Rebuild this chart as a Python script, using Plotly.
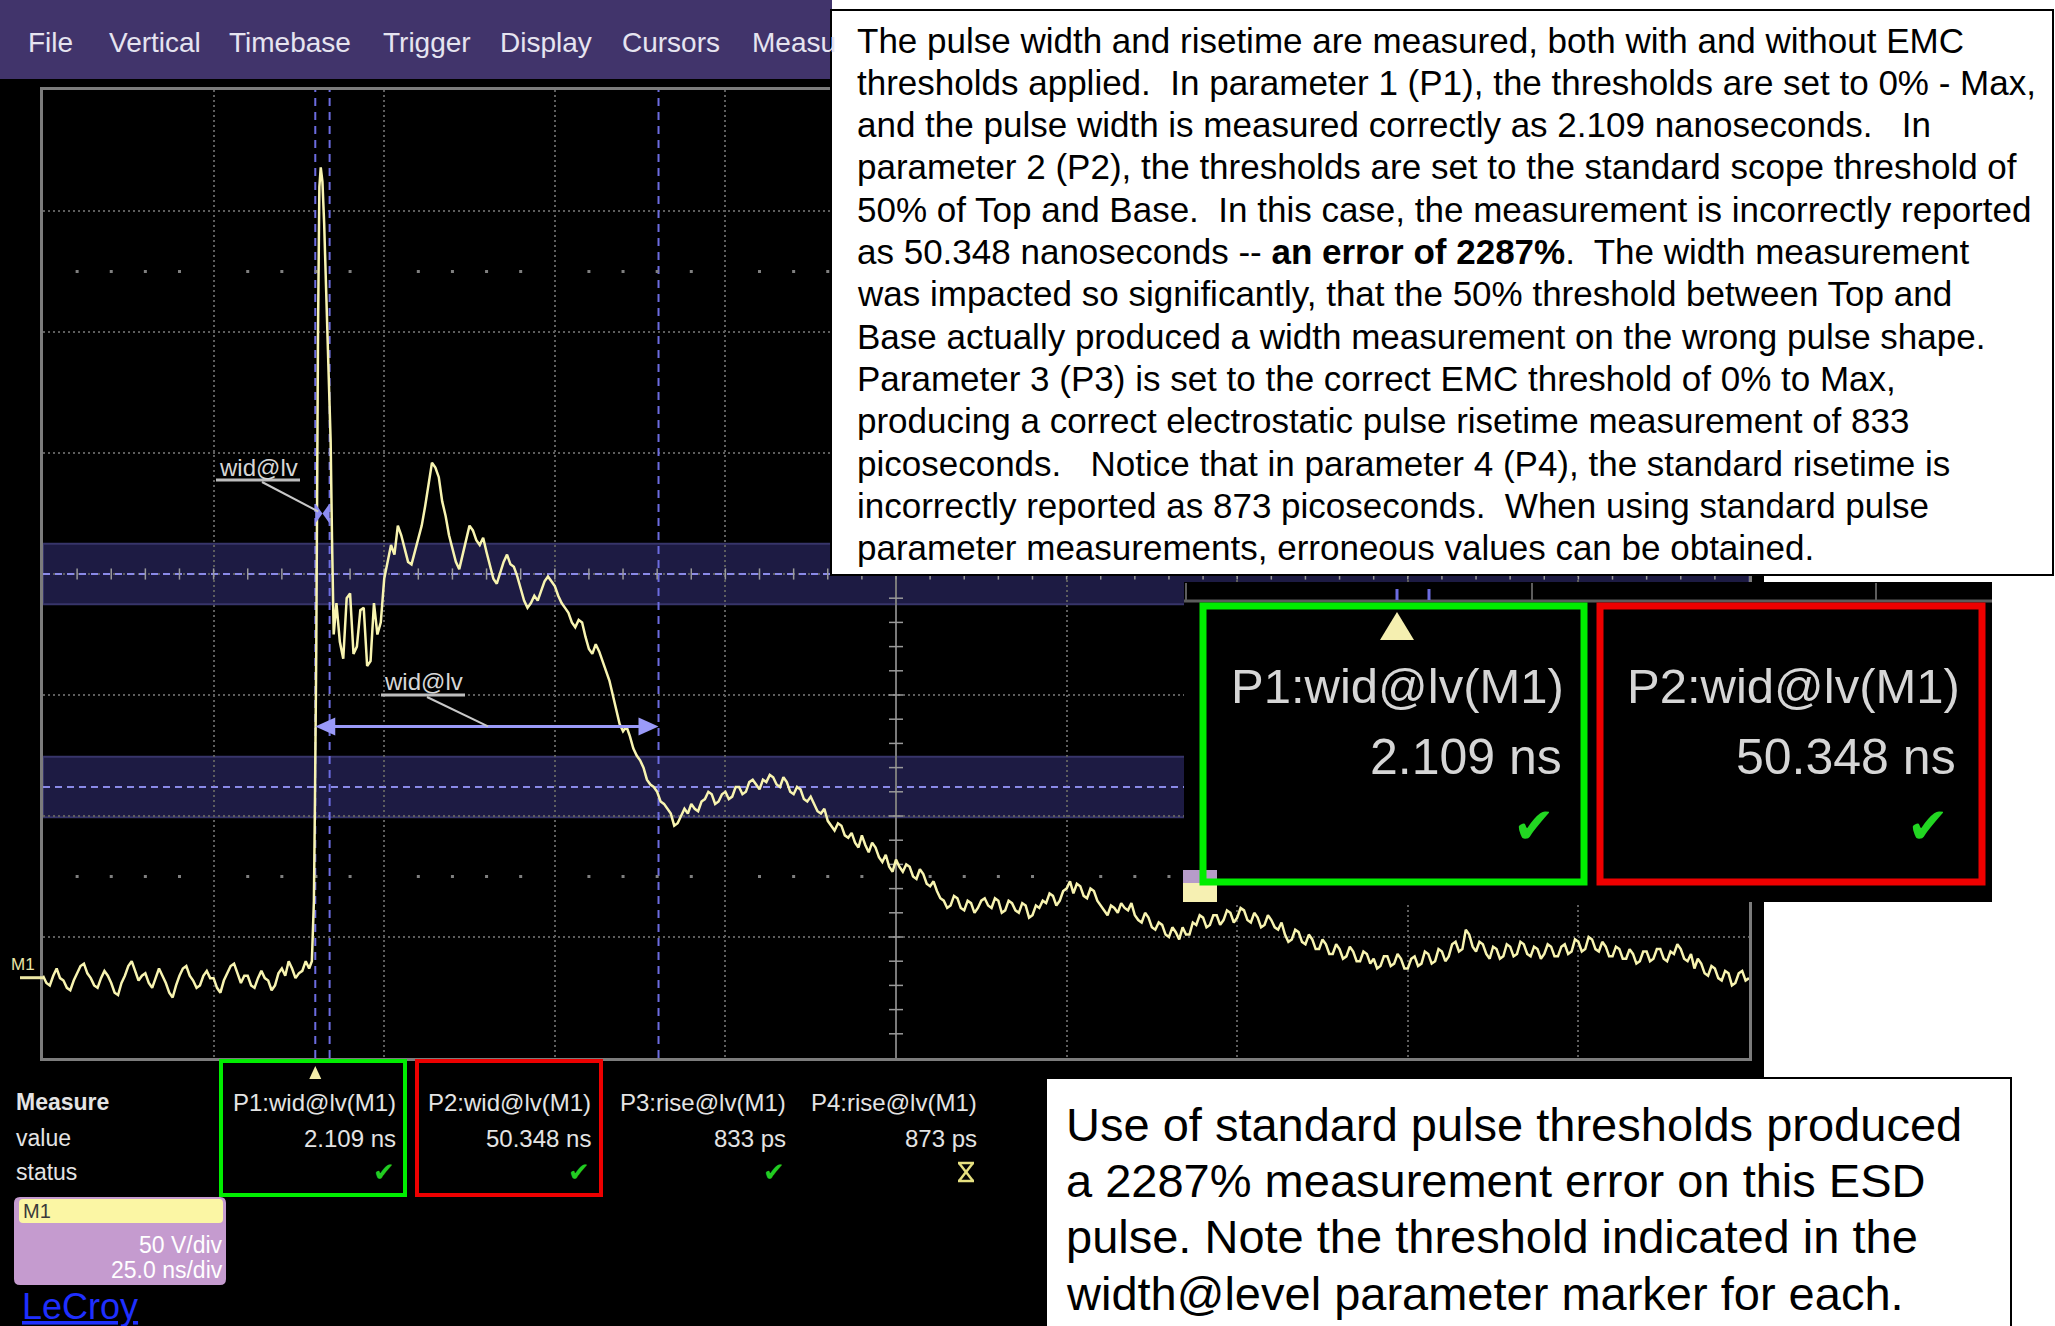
import plotly.graph_objects as go

W, H = 2055, 1326

# ---------------- data ----------------
# Math trace M1: 25 ns/div horizontally, 50 V/div vertically, 0.5 ns samples
V_BASE = [-166, -169, -170, -166, -163, -167, -168, -171, -172, -168,
          -165, -162, -161, -165, -167, -170, -171, -167, -164, -166,
          -169, -173, -174, -169, -166, -162, -160, -164, -168, -166,
          -165, -169, -171, -167, -163, -166, -169, -173, -175, -170,
          -166, -163, -162, -166, -168, -171, -170, -166, -164, -167,
          -167, -171, -173, -168, -165, -162, -161, -165, -169, -166,
          -166, -170, -171, -167, -164, -167, -168, -172, -170, -165,
          -163, -166, -160, -163, -167, -165, -164, -160, -163]
T_BASE = [0.5 * k for k in range(len(V_BASE))]          # 0 .. 39 ns
T_SPIKE = [39.4, 39.7, 39.86, 40.05, 40.3, 40.5, 40.7, 40.95, 41.2, 41.45,
           41.7, 41.95, 42.15, 42.35, 42.6]
V_SPIKE = [-160, -135, -92, -30, 100, 160, 168, 162, 145, 120,
           99, 75, 55, 15, -25]
V_TAIL = [
    -12, -28, -35, -10, -8, -33, -30, -15, -14, -38, -36, -12, -25, -20,
    -2, 5, 12, 8, 20, 16, 11, 5, 4, 9, 15, 20, 28, 38, 46, 44, 40, 30, 24, 16,
    11, 5, 2, 8, 13, 20, 18, 14, 12, 15, 9, 3, -2, -4, 1, 5, 8, 4, 3, -1,
    -6, -11, -14, -12, -9, -11, -7, -3, -1, -3, -5, -9, -12, -14, -16, -20, -22, -19, -20, -26,
    -31, -33, -29, -32, -36, -40, -44, -50, -56, -62, -65, -63, -67, -72, -75, -77, -80, -85, -87, -88,
    -90, -94, -95, -97, -99, -104, -103, -100, -97, -99, -95, -97, -98, -94, -93, -90, -91, -95, -94, -91,
    -90, -93, -92, -88, -88, -91, -90, -86, -85, -87, -89, -85, -86, -83, -84, -87, -88, -84, -86, -90,
    -91, -88, -89, -93, -94, -92, -95, -98, -99, -97, -102, -104, -106, -103, -104, -108, -109, -107, -111, -113,
    -108, -112, -115, -111, -113, -117, -119, -116, -121, -123, -118, -121, -123, -120, -121, -125, -126, -122, -124, -128,
    -129, -127, -131, -134, -135, -138, -137, -133, -134, -138, -139, -135, -136, -140, -138, -135, -134, -137, -138, -134,
    -135, -140, -139, -135, -136, -139, -140, -136, -137, -142, -141, -137, -138, -135, -136, -132, -133, -137, -135, -131,
    -130, -127, -132, -128, -129, -133, -134, -130, -131, -135, -137, -139, -141, -137, -138, -140, -136, -138, -139, -136,
    -141, -143, -144, -140, -142, -146, -147, -144, -145, -149, -150, -146, -148, -151, -146, -149, -149, -144, -145, -141,
    -142, -146, -145, -141, -141, -145, -143, -139, -140, -144, -142, -138, -139, -143, -144, -140, -142, -146, -145, -141,
    -143, -146, -147, -144, -149, -152, -151, -147, -148, -152, -153, -149, -151, -155, -155, -151, -153, -157, -157, -153,
    -155, -159, -158, -154, -156, -160, -160, -156, -157, -161, -159, -163, -162, -158, -158, -162, -161, -157, -159, -163,
    -163, -159, -158, -162, -161, -156, -157, -161, -160, -155, -156, -160, -158, -153, -152, -156, -155, -147, -149, -154,
    -156, -152, -153, -157, -159, -154, -155, -159, -158, -153, -154, -158, -157, -152, -153, -157, -158, -154, -155, -159,
    -157, -153, -154, -158, -158, -154, -153, -157, -156, -151, -152, -156, -155, -150, -151, -155, -156, -152, -154, -158,
    -158, -154, -155, -159, -159, -155, -157, -161, -160, -156, -156, -160, -159, -155, -155, -159, -160, -156, -157, -153,
    -155, -159, -160, -157, -163, -159, -161, -165, -166, -162, -163, -167, -168, -164, -165, -170, -169, -165, -164, -168, -167]
T_TAIL = [43 + 0.5 * k for k in range(len(V_TAIL))]     # 43 .. 250 ns

X_RANGE = [0, 250]      # ns (10 div)
Y_RANGE = [-200, 200]   # V  (8 div)
X_DIV, Y_DIV = 25, 50
CURSOR_T = [39.9, 42.0, 90.2]       # P1: 39.9-42.0, P2: 39.9-90.2
P1_LEVEL = 25.0
P2_LEVEL = -63.0
BAND_CENTER = [0.0, -88.0]
BAND_HALF = 12.5
M1_LEVEL = -166.0

MENU_ITEMS = ["File", "Vertical", "Timebase", "Trigger", "Display", "Cursors", "Measu"]
MENU_X = [26, 107, 227, 381, 498, 620, 750]
PARAM_NAMES = ["P1:wid@lv(M1)", "P2:wid@lv(M1)", "P3:rise@lv(M1)", "P4:rise@lv(M1)"]
PARAM_VALUES = ["2.109 ns", "50.348 ns", "833 ps", "873 ps"]
PARAM_OK = [True, True, True, False]
ROW_LABELS = ["Measure", "value", "status"]
M1_SCALE = ["50 V/div", "25.0 ns/div"]

NOTE_LINES = [
    "The pulse width and risetime are measured, both with and without EMC",
    "thresholds applied.&nbsp; In parameter 1 (P1), the thresholds are set to 0% - Max,",
    "and the pulse width is measured correctly as 2.109 nanoseconds.&nbsp;&nbsp; In",
    "parameter 2 (P2), the thresholds are set to the standard scope threshold of",
    "50% of Top and Base.&nbsp; In this case, the measurement is incorrectly reported",
    "as 50.348 nanoseconds -- <b>an error of 2287%</b>.&nbsp; The width measurement",
    "was impacted so significantly, that the 50% threshold between Top and",
    "Base actually produced a width measurement on the wrong pulse shape.",
    "Parameter 3 (P3) is set to the correct EMC threshold of 0% to Max,",
    "producing a correct electrostatic pulse risetime measurement of 833",
    "picoseconds.&nbsp;&nbsp; Notice that in parameter 4 (P4), the standard risetime is",
    "incorrectly reported as 873 picoseconds.&nbsp; When using standard pulse",
    "parameter measurements, erroneous values can be obtained.",
]
CAPTION_LINES = [
    "Use of standard pulse thresholds produced",
    "a 2287% measurement error on this ESD",
    "pulse. Note the threshold indicated in the",
    "width@level parameter marker for each.",
]

# ---------------- geometry helpers ----------------
PL, PR, PT, PB = 43, 1749, 90, 1058   # scope grid in figure pixels
FONT = "Liberation Sans, Arial, sans-serif"


def fx(p):
    return p / W


def fy(p):
    return 1 - p / H


def tx(t):
    return PL + (t - X_RANGE[0]) / (X_RANGE[1] - X_RANGE[0]) * (PR - PL)


def vy(v):
    return PB - (v - Y_RANGE[0]) / (Y_RANGE[1] - Y_RANGE[0]) * (PB - PT)


shapes = []
annos = []


def rect(x0, y0, x1, y1, fill=None, line=None, lw=0, layer="above"):
    shapes.append(dict(type="rect", xref="paper", yref="paper",
                       x0=fx(x0), x1=fx(x1), y0=fy(y1), y1=fy(y0),
                       fillcolor=fill or "rgba(0,0,0,0)",
                       line=dict(color=line or "rgba(0,0,0,0)", width=lw),
                       layer=layer))


def seg(x0, y0, x1, y1, color, lw, dash="solid", layer="above"):
    shapes.append(dict(type="line", xref="paper", yref="paper",
                       x0=fx(x0), y0=fy(y0), x1=fx(x1), y1=fy(y1),
                       line=dict(color=color, width=lw, dash=dash), layer=layer))


def poly(pts, fill, layer="above"):
    path = "M " + " L ".join(f"{fx(x):.5f},{fy(y):.5f}" for x, y in pts) + " Z"
    shapes.append(dict(type="path", xref="paper", yref="paper", path=path,
                       fillcolor=fill, line=dict(width=0), layer=layer))


def rrect(x0, y0, x1, y1, r, fill, layer="above"):
    X, Y = fx, fy
    p = (f"M {X(x0+r)},{Y(y0)} L {X(x1-r)},{Y(y0)} Q {X(x1)},{Y(y0)} {X(x1)},{Y(y0+r)} "
         f"L {X(x1)},{Y(y1-r)} Q {X(x1)},{Y(y1)} {X(x1-r)},{Y(y1)} "
         f"L {X(x0+r)},{Y(y1)} Q {X(x0)},{Y(y1)} {X(x0)},{Y(y1-r)} "
         f"L {X(x0)},{Y(y0+r)} Q {X(x0)},{Y(y0)} {X(x0+r)},{Y(y0)} Z")
    shapes.append(dict(type="path", xref="paper", yref="paper", path=p,
                       fillcolor=fill, line=dict(width=0), layer=layer))


def text(x, y, s, size, color, anchor="left", family=FONT):
    annos.append(dict(x=fx(x), y=fy(y), xref="paper", yref="paper", text=s,
                      showarrow=False, xanchor=anchor, yanchor="middle",
                      font=dict(size=size, color=color, family=family)))


# ---------------- background of the scope screen ----------------
rect(0, 79, 1764, H, fill="#000000", layer="below")
rect(0, 0, 832, 79, fill="#41346b", layer="below")
for item, x in zip(MENU_ITEMS, MENU_X):
    text(x, 43, item, 28, "#e6e4f0")

# threshold bands (data coords)
for c in BAND_CENTER:
    shapes.append(dict(type="rect", xref="x", yref="y", x0=X_RANGE[0], x1=X_RANGE[1],
                       y0=c - BAND_HALF, y1=c + BAND_HALF, fillcolor="#1d1b43",
                       line=dict(color="#37356a", width=2), layer="below"))
for c in BAND_CENTER:
    shapes.append(dict(type="line", xref="x", yref="y", x0=X_RANGE[0], x1=X_RANGE[1],
                       y0=c, y1=c, line=dict(color="#8a8ae8", width=2, dash="7px,5px"),
                       layer="between"))
# centre vertical axis
tc = (X_RANGE[0] + X_RANGE[1]) / 2
shapes.append(dict(type="line", xref="x", yref="y", x0=tc, x1=tc, y0=Y_RANGE[0], y1=Y_RANGE[1],
                   line=dict(color="#7a7a7a", width=2), layer="between"))
# cursor lines
for t in CURSOR_T:
    shapes.append(dict(type="line", xref="x", yref="y", x0=t, x1=t, y0=Y_RANGE[0], y1=Y_RANGE[1],
                       line=dict(color="#6c6ce0", width=2, dash="8px,6px"), layer="between"))

# ground marker M1
seg(20, vy(M1_LEVEL) + 2, PL, vy(M1_LEVEL) + 2, "#efeaa6", 3)
text(9, vy(M1_LEVEL) - 11, "M1", 17, "#ebe6a8")

# P1 width@level marker (bow-tie between P1 cursors)
ya = vy(P1_LEVEL)
xa, xb = tx(CURSOR_T[0]), tx(CURSOR_T[1])
xm = (xa + xb) / 2
poly([(xa, ya - 10), (xa, ya + 10), (xm, ya)], "#8c8cf2")
poly([(xb, ya - 10), (xb, ya + 10), (xm, ya)], "#8c8cf2")
# P2 width@level arrow
yb = vy(P2_LEVEL)
x2a, x2b = tx(CURSOR_T[0]), tx(CURSOR_T[2])
seg(x2a + 10, yb, x2b - 10, yb, "#9a9af8", 3)
poly([(x2a, yb), (x2a + 20, yb - 9), (x2a + 20, yb + 9)], "#9a9af8")
poly([(x2b, yb), (x2b - 20, yb - 9), (x2b - 20, yb + 9)], "#9a9af8")

# wid@lv labels with leaders
for (lx, ly, ax, ay) in [(258, 467, xa + 3, ya - 2), (423, 682, 488, yb)]:
    text(lx, ly, "wid@lv", 24, "#d6d6d6", anchor="center")
    seg(lx - 42, ly + 13, lx + 42, ly + 13, "#bdbdbd", 3)
    seg(lx + 4, ly + 15, ax, ay, "#c8c8c8", 2)

# ---------------- annotation text box (top right) ----------------
rect(831, 10, 2053, 575, fill="#ffffff", line="#000000", lw=2)
for i, ln in enumerate(NOTE_LINES):
    text(855, 40 + 42.3 * i, ln, 35, "#000000")

# ---------------- zoomed inset of P1/P2 ----------------
rect(1184, 582, 1992, 902, fill="#000000")
seg(1184, 601, 1992, 601, "#5c5c5c", 3)
for x in [1186, 1532, 1876]:
    seg(x, 583, x, 600, "#5c5c5c", 2)
for x in [1397, 1429]:
    seg(x, 589, x, 600, "#6c6ce0", 3)
rect(1183, 870, 1217, 883, fill="#b79cc9")
rect(1183, 883, 1217, 902, fill="#f6f0b2")
rect(1203, 606, 1584, 882, line="#00ee00", lw=7)
rect(1600, 606, 1982, 882, line="#ee0000", lw=7)
poly([(1380, 640), (1397, 612), (1414, 640)], "#f5efb0")
text(1566, 686, PARAM_NAMES[0], 49, "#d6d6d6", anchor="right")
text(1564, 757, PARAM_VALUES[0], 50, "#d6d6d6", anchor="right")
text(1962, 686, PARAM_NAMES[1], 49, "#d6d6d6", anchor="right")
text(1958, 757, PARAM_VALUES[1], 50, "#d6d6d6", anchor="right")
for x in [1534, 1928]:
    text(x, 826, "✔", 50, "#22d622", anchor="center", family="DejaVu Sans")

# ---------------- measurement table ----------------
COL_RIGHT = [398, 593, 788, 979]
ROW_Y = [1102, 1138, 1172]
rect(221, 1061, 405, 1195, line="#00ee00", lw=4)
rect(417, 1061, 601, 1195, line="#ee0000", lw=4)
poly([(tx(CURSOR_T[0]) - 6, 1079), (tx(CURSOR_T[0]), 1066), (tx(CURSOR_T[0]) + 6, 1079)], "#f2eca8")
text(14, ROW_Y[0], "<b>" + ROW_LABELS[0] + "</b>", 23, "#e4e4e4")
text(14, ROW_Y[1], ROW_LABELS[1], 23, "#e4e4e4")
text(14, ROW_Y[2], ROW_LABELS[2], 23, "#e4e4e4")
for name, val, ok, xr in zip(PARAM_NAMES, PARAM_VALUES, PARAM_OK, COL_RIGHT):
    text(xr, ROW_Y[0], name, 24, "#e4e4e4", anchor="right")
    text(xr, ROW_Y[1], val, 24, "#e4e4e4", anchor="right")
    if ok:
        text(xr - 14, ROW_Y[2], "✔", 26, "#22cc22", anchor="center", family="DejaVu Sans")
    else:
        cx, cy = xr - 13, ROW_Y[2]
        seg(cx - 7, cy - 9, cx + 7, cy + 9, "#e6e080", 2.5)
        seg(cx + 7, cy - 9, cx - 7, cy + 9, "#e6e080", 2.5)
        seg(cx - 8, cy - 9, cx + 8, cy - 9, "#e6e080", 2.5)
        seg(cx - 8, cy + 9, cx + 8, cy + 9, "#e6e080", 2.5)

# M1 descriptor box
rrect(14, 1197, 226, 1285, 6, "#c59bcf")
rrect(19, 1199, 223, 1223, 4, "#fbf6a4")
text(21, 1211, "M1", 20, "#3a3a3a")
text(225, 1245, M1_SCALE[0], 23, "#ffffff", anchor="right")
text(225, 1270, M1_SCALE[1], 23, "#ffffff", anchor="right")
text(20, 1306, "<u>LeCroy</u>", 36, "#1f2fff",
     family="Liberation Sans Narrow, Liberation Sans, Arial")

# ---------------- caption box (bottom right) ----------------
rect(1046, 1078, 2011, H + 5, fill="#ffffff", line="#000000", lw=2)
for i, ln in enumerate(CAPTION_LINES):
    text(1064, 1124 + 56.4 * i, ln, 47, "#000000")

# ---------------- traces ----------------
fig = go.Figure()
minor = [X_RANGE[0] + k * X_DIV / 5 for k in range(1, 50)]
dots_x = [t for k, t in enumerate(minor, start=1) if k % 5]
for row in [2.5 * Y_DIV, -2.5 * Y_DIV]:
    fig.add_trace(go.Scatter(x=dots_x, y=[row] * len(dots_x), mode="markers",
                             marker=dict(size=3, color="#808080", symbol="square"),
                             hoverinfo="skip"))
fig.add_trace(go.Scatter(x=minor, y=[0] * len(minor), mode="markers",
                         marker=dict(symbol="line-ns", size=8,
                                     line=dict(color="#9a9a9a", width=1.5)),
                         hoverinfo="skip"))
vt = [Y_RANGE[0] + k * Y_DIV / 5 for k in range(1, 40)]
fig.add_trace(go.Scatter(x=[tc] * len(vt), y=vt, mode="markers",
                         marker=dict(symbol="line-ew", size=10,
                                     line=dict(color="#9a9a9a", width=1.5)),
                         hoverinfo="skip"))

T_ALL = T_BASE + T_SPIKE + T_TAIL
V_ALL = V_BASE + V_SPIKE + V_TAIL
fig.add_trace(go.Scatter(x=T_ALL, y=V_ALL, mode="lines",
                         line=dict(color="#f8f4b0", width=2.5), hoverinfo="skip"))

axis_common = dict(showgrid=True, gridcolor="#5e5e5e", griddash="2px,3px", gridwidth=1.5,
                   zeroline=False, showline=True, mirror=True, linecolor="#7c7c7c",
                   linewidth=3, showticklabels=False, ticks="", fixedrange=True)
fig.update_layout(
    width=W, height=H, margin=dict(l=0, r=0, t=0, b=0),
    paper_bgcolor="#ffffff", plot_bgcolor="rgba(0,0,0,0)",
    showlegend=False, hovermode=False,
    xaxis=dict(domain=[fx(PL), fx(PR)], range=X_RANGE, dtick=X_DIV, tick0=0, **axis_common),
    yaxis=dict(domain=[fy(PB), fy(PT)], range=Y_RANGE, dtick=Y_DIV, tick0=0, **axis_common),
    shapes=shapes, annotations=annos,
)
fig.write_html("out.html", config={"displayModeBar": False},
               post_script="document.body.style.margin='0';")
